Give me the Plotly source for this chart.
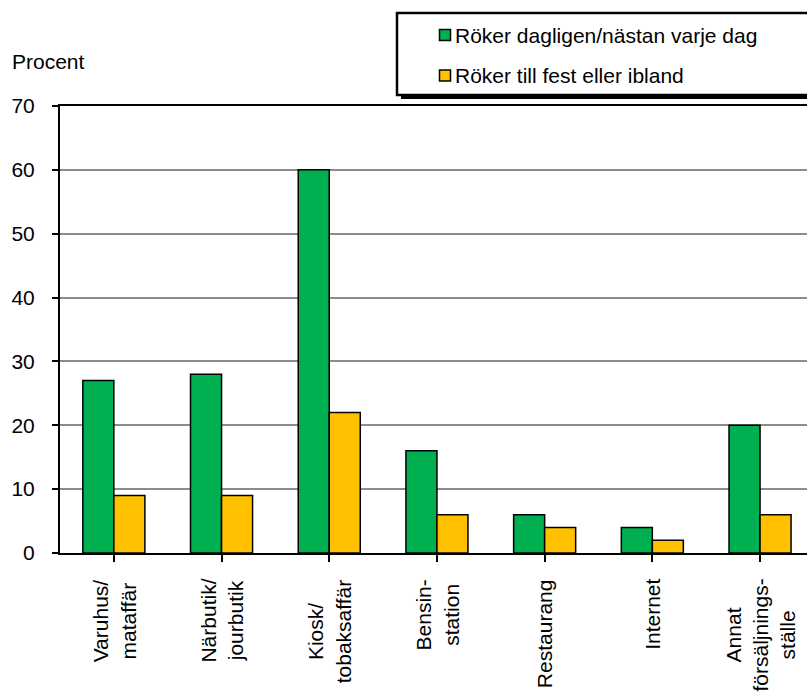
import plotly.graph_objects as go

# Where young smokers bought their cigarettes (percent)
categories = [
    "Varuhus/<br>mataffär",
    "Närbutik/<br>jourbutik",
    "Kiosk/<br>tobaksaffär",
    "Bensin-<br>station",
    "Restaurang",
    "Internet",
    "Annat<br>försäljnings-<br>ställe",
]
series_names = ["Röker dagligen/nästan varje dag", "Röker till fest eller ibland"]
daily = [27, 28, 60, 16, 6, 4, 20]
occasional = [9, 9, 22, 6, 4, 2, 6]
y_ticks = [0, 10, 20, 30, 40, 50, 60, 70]

W, H = 807, 693
ML, MR, MT, MB = 60, 0, 106, 140
FONT = "Liberation Sans, Arial, Helvetica, sans-serif"
FS = 21


def px_x(p):
    return (p - ML) / (W - ML - MR)


def px_y(p):
    return (H - MB - p) / (H - MT - MB)


fig = go.Figure()
colors = ["#00B050", "#FFC000"]
positions = list(range(len(categories)))
for name, vals, col in zip(series_names, [daily, occasional], colors):
    fig.add_trace(go.Bar(
        x=positions, y=vals, name=name,
        marker=dict(color=col, line=dict(color="black", width=1.5)),
        showlegend=False,
    ))

fig.update_layout(
    width=W, height=H,
    margin=dict(l=ML, r=MR, t=MT, b=MB, pad=0),
    paper_bgcolor="white", plot_bgcolor="white",
    barmode="group", bargap=0.424, bargroupgap=0,
    font=dict(family=FONT, size=FS, color="black"),
)

fig.update_xaxes(
    range=[-0.5, 6.436],
    tickmode="array", tickvals=positions, showticklabels=False,
    tickson="boundaries",
    ticks="outside", ticklen=7, tickwidth=2, tickcolor="black",
    showline=True, linecolor="black", linewidth=2, mirror=True,
    showgrid=False, zeroline=False,
)
fig.update_yaxes(
    range=[0, 70], tickvals=y_ticks,
    ticks="outside", ticklen=6, tickwidth=2, tickcolor="black",
    showline=True, linecolor="black", linewidth=2,
    showgrid=True, gridcolor="#8c8c8c", gridwidth=2, zeroline=False,
    tickfont=dict(family=FONT, size=FS, color="black"),
    ticklabelstandoff=13,
)

# Rotated category labels, lines centred on each other
for pos, label in zip(positions, categories):
    fig.add_annotation(
        text=label, x=pos, xref="x", y=px_y(577), yref="paper",
        xanchor="center", yanchor="top", textangle=-90, align="center",
        showarrow=False, font=dict(family=FONT, size=FS, color="black"),
    )

# Axis title above the y axis
fig.add_annotation(
    text="Procent", xref="paper", yref="paper",
    x=px_x(10), y=px_y(61), xanchor="left", yanchor="middle",
    showarrow=False, font=dict(family=FONT, size=FS, color="black"),
)

# Boxed legend with a drop shadow
box_l, box_t, box_b = 397, 13, 95
shadow = 4
fig.add_shape(type="rect", xref="paper", yref="paper", layer="above",
              x0=px_x(box_l + shadow), x1=px_x(W + 20),
              y0=px_y(box_b + shadow), y1=px_y(box_t + shadow),
              fillcolor="black", line=dict(width=0))
fig.add_shape(type="rect", xref="paper", yref="paper", layer="above",
              x0=px_x(box_l), x1=px_x(W + 20),
              y0=px_y(box_b), y1=px_y(box_t),
              fillcolor="white", line=dict(color="black", width=2.5))

for name, col, cy in zip(series_names, colors, [35, 75.5]):
    fig.add_shape(type="rect", xref="paper", yref="paper", layer="above",
                  x0=px_x(439.5), x1=px_x(450.5),
                  y0=px_y(cy + 5.5), y1=px_y(cy - 5.5),
                  fillcolor=col, line=dict(color="black", width=1.5))
    fig.add_annotation(
        text=name, xref="paper", yref="paper",
        x=px_x(453), y=px_y(cy), xanchor="left", yanchor="middle",
        showarrow=False, font=dict(family=FONT, size=FS, color="black"),
    )

fig.write_html("out.html")
